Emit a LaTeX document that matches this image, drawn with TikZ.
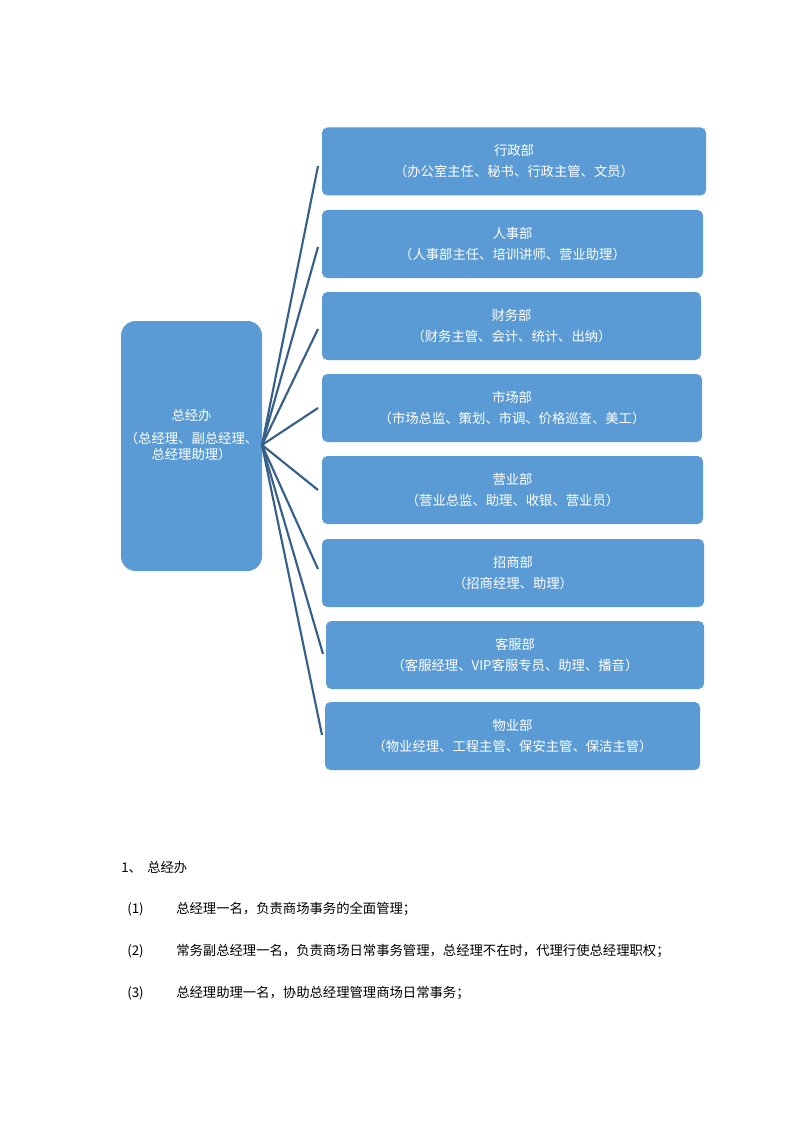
\documentclass[tikz,border=0pt]{standalone}
\usepackage{fontspec}
\setmainfont{Noto Sans CJK SC}
\definecolor{boxblue}{HTML}{5B9BD5}
\definecolor{lineblue}{HTML}{36608A}
\begin{document}
\begin{tikzpicture}[x=0.75pt,y=-0.75pt,
  dept/.style={fill=boxblue, draw=none, rounded corners=4pt, text=white, align=center,
     font=\fontsize{10}{15.75}\selectfont, minimum height=51pt, inner sep=0pt},
  rootbox/.style={fill=boxblue, draw=none, rounded corners=11pt, minimum width=105.75pt, minimum height=187.5pt, inner sep=0pt},
  roottext/.style={text=white, align=center, font=\fontsize{10}{12}\selectfont, inner sep=0pt},
  link/.style={draw=lineblue, line width=1.6pt},
  body/.style={anchor=base west, inner sep=0pt, font=\fontsize{10}{12}\selectfont}]
\useasboundingbox (0,0) rectangle (794,1123);
\fill[white] (0,0) rectangle (794,1123);

\node[rootbox] (root) at (191.5,446) {};
\node[roottext] (rt) at (191.5,435) {总经办\\[5pt]（总经理、副总经理、\\总经理助理）};

\node[dept, minimum width=288pt] (b1) at (514,161.5) {行政部\\（办公室主任、秘书、行政主管、文员）};
\node[dept, minimum width=285.75pt] (b2) at (512.5,244) {人事部\\（人事部主任、培训讲师、营业助理）};
\node[dept, minimum width=284.25pt] (b3) at (511.5,326) {财务部\\（财务主管、会计、统计、出纳）};
\node[dept, minimum width=285pt] (b4) at (512,408) {市场部\\（市场总监、策划、市调、价格巡查、美工）};
\node[dept, minimum width=285.75pt] (b5) at (512.5,490) {营业部\\（营业总监、助理、收银、营业员）};
\node[dept, minimum width=286.5pt] (b6) at (513,573) {招商部\\（招商经理、助理）};
\node[dept, minimum width=283.5pt] (b7) at (515,655) {客服部\\（客服经理、VIP客服专员、助理、播音）};
\node[dept, minimum width=281.25pt] (b8) at (512.5,736) {物业部\\（物业经理、工程主管、保安主管、保洁主管）};

\coordinate (e1) at (318,166);
\coordinate (e2) at (318,247);
\coordinate (e3) at (318,329);
\coordinate (e4) at (318,408);
\coordinate (e5) at (318,490);
\coordinate (e6) at (318,569);
\coordinate (e7) at (323,654);
\coordinate (e8) at (322,735);
\coordinate (hub) at (262,445);
\foreach \i in {1,...,8} \draw[link] (hub) -- (e\i);

\node[body] (h1) at (121,872) {1、};
\node[body] (h1t) at (147,872) {总经办};
\node[body] (n1) at (127,913) {(1)};
\node[body] (t1) at (176,913) {总经理一名，负责商场事务的全面管理；};
\node[body] (n2) at (127,955) {(2)};
\node[body] (t2) at (176,955) {常务副总经理一名，负责商场日常事务管理，总经理不在时，代理行使总经理职权；};
\node[body] (n3) at (127,997) {(3)};
\node[body] (t3) at (176,997) {总经理助理一名，协助总经理管理商场日常事务；};
\end{tikzpicture}
\end{document}
